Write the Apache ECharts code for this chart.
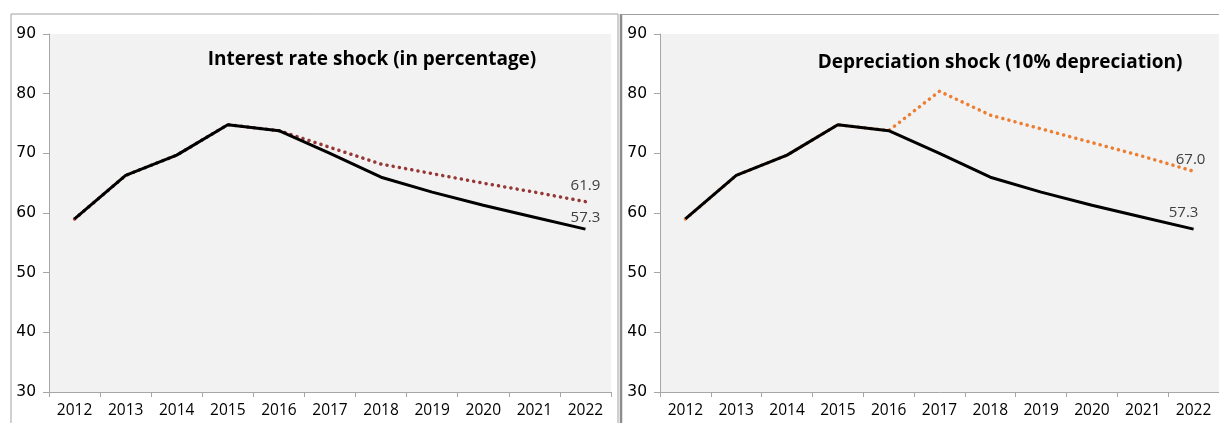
<!DOCTYPE html>
<html><head><meta charset="utf-8">
<script src="https://cdn.jsdelivr.net/npm/echarts@6/dist/echarts.min.js"></script>
<style>html,body{margin:0;padding:0;background:#fff}#c{width:1219px;height:423px}</style>
</head><body><div id="c"></div>
<script>
const years = ['2012','2013','2014','2015','2016','2017','2018','2019','2020','2021','2022'];
const baseline = [59.0, 66.3, 69.7, 74.8, 73.8, 70.0, 66.0, 63.5, 61.3, 59.3, 57.3];
const interestShock = [59.0, 66.3, 69.7, 74.8, 73.8, 71.0, 68.2, 66.6, 65.0, 63.5, 61.9];
const depreciationShock = [59.0, 66.3, 69.7, 74.8, 73.8, 80.4, 76.4, 74.1, 71.8, 69.5, 67.0];
const titles = ['Interest rate shock (in percentage)', 'Depreciation shock (10% depreciation)'];

const chart = echarts.init(document.getElementById('c'), null, {renderer:'canvas'});
const last = years.length - 1;
function withEndLabel(vals, labelOpt){
  return vals.map((v,i)=> i===last ? {value:v, label:Object.assign({show:true, formatter:(p)=>p.value.toFixed(1)}, labelOpt)} : v);
}
const grids = [
  {left:49, top:34, width:562, height:358},
  {left:660, top:34, width:562, height:358}
];
const xAxes = grids.map((g,i)=>({
  type:'category', gridIndex:i, data:years, boundaryGap:true,
  axisLine:{show:true, lineStyle:{color:'#a6a6a6', width:1}},
  axisTick:{show:true, length:5, inside:false, lineStyle:{color:'#a6a6a6'}},
  axisLabel:{color:'#000', fontFamily:'Open Sans', fontSize:15.5, margin:11}
}));
const yAxes = grids.map((g,i)=>({
  type:'value', gridIndex:i, min:30, max:90, interval:10,
  axisLine:{show:true, lineStyle:{color:'#a6a6a6', width:1}},
  axisTick:{show:true, length:6, lineStyle:{color:'#a6a6a6'}},
  splitLine:{show:false},
  axisLabel:{color:'#000', fontFamily:'DejaVu Sans', fontSize:15.5, margin:13}
}));
const lblBase = {color:'#404040', fontFamily:'Open Sans', fontSize:15};
const common = {type:'line', symbol:'circle', symbolSize:0, showSymbol:true, showAllSymbol:true};
chart.setOption({
  animation:false,
  grid: grids.map(g=>Object.assign({show:true, backgroundColor:'#f2f2f2', borderWidth:0}, g)),
  xAxis: xAxes, yAxis: yAxes,
  title:[
    {text:titles[0], left:367, top:45, textAlign:'center', textStyle:{fontFamily:'Open Sans', fontWeight:'bold', fontSize:19, color:'#000'}},
    {text:titles[1], left:995, top:48, textAlign:'center', textStyle:{fontFamily:'Open Sans', fontWeight:'bold', fontSize:19, color:'#000'}}
  ],
  graphic:[
    {type:'rect', shape:{x:11, y:14, width:607, height:420}, style:{fill:'none', stroke:'#a0a0a0', lineWidth:1}, silent:true},
    {type:'line', shape:{x1:621, y1:14, x2:621, y2:423}, style:{stroke:'#8c8c8c', lineWidth:2.5}, silent:true},
    {type:'line', shape:{x1:621, y1:14.5, x2:1219, y2:14.5}, style:{stroke:'#a0a0a0', lineWidth:1}, silent:true}
  ],
  series:[
    Object.assign({}, common, {xAxisIndex:0, yAxisIndex:0, z:2,
     itemStyle:{color:'#953735'},
     data:withEndLabel(interestShock, Object.assign({position:'top', distance:8}, lblBase)),
     lineStyle:{color:'#953735', width:3.5, type:[0.1,6.2], cap:'round'}}),
    Object.assign({}, common, {xAxisIndex:0, yAxisIndex:0, z:3,
     itemStyle:{color:'#000'},
     data:withEndLabel(baseline, Object.assign({position:'top', distance:4}, lblBase)),
     lineStyle:{color:'#000', width:3}}),
    Object.assign({}, common, {xAxisIndex:1, yAxisIndex:1, z:2,
     itemStyle:{color:'#ED7D31'},
     data:withEndLabel(depreciationShock, Object.assign({position:'top', distance:4, offset:[-3,0]}, lblBase)),
     lineStyle:{color:'#ED7D31', width:3.5, type:[0.1,6.2], cap:'round'}}),
    Object.assign({}, common, {xAxisIndex:1, yAxisIndex:1, z:3,
     itemStyle:{color:'#000'},
     data:withEndLabel(baseline, Object.assign({position:'top', distance:9, offset:[-10,0]}, lblBase)),
     lineStyle:{color:'#000', width:3}})
  ]
});
</script></body></html>
